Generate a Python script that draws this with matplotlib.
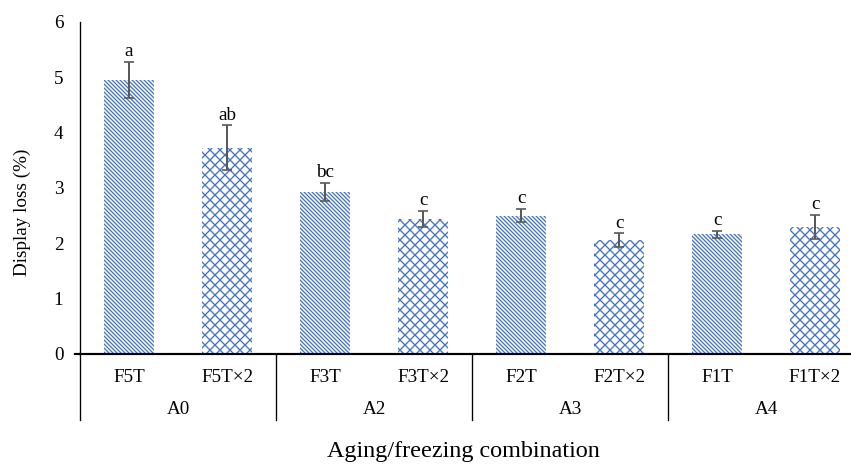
import matplotlib.pyplot as plt
import matplotlib.transforms as mtransforms
import numpy as np

categories = ['F5T', 'F5T×2', 'F3T', 'F3T×2', 'F2T', 'F2T×2', 'F1T', 'F1T×2']
groups = ['A0', 'A2', 'A3', 'A4']
loss = [4.95, 3.73, 2.93, 2.44, 2.50, 2.06, 2.16, 2.30]
err = [0.33, 0.40, 0.16, 0.15, 0.12, 0.12, 0.06, 0.22]
letters = ['a', 'ab', 'bc', 'c', 'c', 'c', 'c', 'c']

plt.rcParams['font.family'] = ['Liberation Serif', 'DejaVu Serif']
plt.rcParams['hatch.linewidth'] = 0.8

W, H, dpi = 851, 471, 120
fig = plt.figure(figsize=(W / dpi, H / dpi), dpi=dpi)
# axis runs past the right edge of the picture, as in the original
ax = fig.add_axes([80 / W, (H - 354) / H, (864 - 80) / W, (354 - 22) / H])

x = np.arange(len(categories))
blue = '#4472C4'
fs = 11.5
for i in x:
    hatch = '\\' * 10 if i % 2 == 0 else 'x' * 4
    ax.bar(i, loss[i], width=0.51, color='white', edgecolor=blue, lw=0, hatch=hatch)
ax.errorbar(x, loss, yerr=err, fmt='none', ecolor='#595959', elinewidth=1.2,
            capsize=2.8, capthick=1.0)
for i in x:
    ax.annotate(letters[i], (i, loss[i] + err[i]), xytext=(0, 3.5),
                textcoords='offset points', ha='center', va='baseline', fontsize=fs)

ax.set_xlim(-0.5, len(categories) - 0.5)
ax.set_ylim(0, 6)
ax.set_yticks(range(7))
ax.tick_params(axis='y', length=0, pad=10, labelsize=fs)
ax.set_xticks([])
for s in ['top', 'right']:
    ax.spines[s].set_visible(False)
ax.spines['left'].set_linewidth(0.8)
ax.spines['bottom'].set_linewidth(1.3)

# multi-level category axis
trans = mtransforms.blended_transform_factory(ax.transData, ax.transAxes)
px = 1.0 / (354 - 22)
for g in range(len(groups) + 1):
    xb = -0.5 + 2 * g
    ax.plot([xb, xb], [0, -66 * px], transform=trans, color='black', lw=0.8, clip_on=False)
ax.plot([-0.5 - 5 / 98, -0.5], [0, 0], transform=trans, color='black', lw=1.3, clip_on=False)
for i, c in enumerate(categories):
    ax.text(i, -23 * px, c, transform=trans, ha='center', va='center', fontsize=fs)
for g, name in enumerate(groups):
    ax.text(2 * g + 0.5, -55 * px, name, transform=trans, ha='center', va='center', fontsize=fs)

fig.text(463 / W, 1 - 452 / H, 'Aging/freezing combination', ha='center', va='center', fontsize=14.5)
fig.text(22 / W, 1 - 212 / H, 'Display loss (%)', ha='center', va='center',
         rotation=90, fontsize=fs)

fig.savefig('out.png', dpi=dpi)
